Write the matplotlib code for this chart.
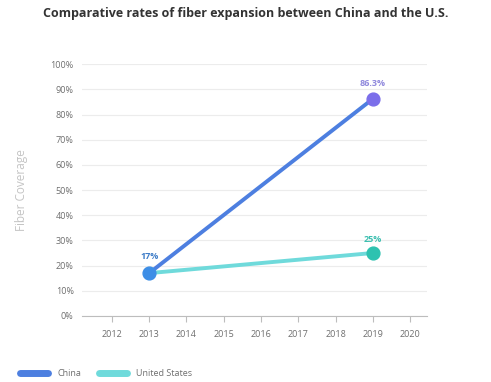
import matplotlib.pyplot as plt
from matplotlib.lines import Line2D

years = [2012, 2013, 2014, 2015, 2016, 2017, 2018, 2019, 2020]
china_years = [2013, 2019]
china_values = [17, 86.3]
us_years = [2013, 2019]
us_values = [17, 25]
y_ticks = [0, 10, 20, 30, 40, 50, 60, 70, 80, 90, 100]

china_line = "#4d7fe0"
china_start = "#3d8ee6"
china_end = "#7b6eea"
us_line = "#6fdadb"
us_end = "#2ec2b0"

plt.rcParams["font.family"] = ["Open Sans", "DejaVu Sans"]

fig = plt.figure(figsize=(4.91, 3.82), dpi=100)
ax = fig.add_axes([0.167, 0.173, 0.703, 0.659])

ax.plot(us_years, us_values, color=us_line, lw=2.8, solid_capstyle="round", zorder=3)
ax.plot(china_years, china_values, color=china_line, lw=2.8, solid_capstyle="round", zorder=4)
ax.scatter([china_years[0]], [china_values[0]], s=85, color=china_start, zorder=5, clip_on=False)
ax.scatter([china_years[1]], [china_values[1]], s=85, color=china_end, zorder=5, clip_on=False)
ax.scatter([us_years[1]], [us_values[1]], s=85, color=us_end, zorder=5, clip_on=False)

ax.annotate(f"{china_values[0]:g}%", (china_years[0], china_values[0]), xytext=(0, 10),
            textcoords="offset points", ha="center", fontsize=6.5, color="#3f7dc8", fontweight="bold")
ax.annotate(f"{china_values[1]:g}%", (china_years[1], china_values[1]), xytext=(0, 9),
            textcoords="offset points", ha="center", fontsize=6.5, color="#8f88dc", fontweight="bold")
ax.annotate(f"{us_values[1]:g}%", (us_years[1], us_values[1]), xytext=(0, 8),
            textcoords="offset points", ha="center", fontsize=6.5, color="#3cbfb0", fontweight="bold")

ax.set_xlim(2011.2, 2020.45)
ax.set_ylim(0, 100)
ax.set_xticks(years)
ax.set_xticklabels([str(y) for y in years])
ax.set_yticks(y_ticks)
ax.set_yticklabels([f"{v}%" for v in y_ticks])
ax.grid(axis="y", color="#ececec", lw=0.8)
ax.set_axisbelow(True)
for s in ["top", "right", "left"]:
    ax.spines[s].set_visible(False)
ax.spines["bottom"].set_color("#bdbdbd")
ax.tick_params(axis="x", colors="#bdbdbd", length=4, width=0.8, pad=6, labelsize=6.5, labelcolor="#6e6e6e")
ax.tick_params(axis="y", length=0, pad=6, labelsize=6.5, labelcolor="#6e6e6e")
ax.set_ylabel("Fiber Coverage", color="#c4c4c4", fontsize=8.5, labelpad=16)

fig.text(0.5, 0.965, "Comparative rates of fiber expansion between China and the U.S.",
         ha="center", va="center", fontsize=9, fontweight="bold", color="#333333")

handles = [Line2D([], [], color=china_line, lw=5, solid_capstyle="round"),
           Line2D([], [], color=us_line, lw=5, solid_capstyle="round")]
fig.legend(handles, ["China", "United States"], loc="lower left", bbox_to_anchor=(0.025, -0.01),
           ncol=2, frameon=False, fontsize=6.5, handlelength=3.1, handletextpad=1.0,
           columnspacing=2.0, labelcolor="#6e6e6e")

fig.savefig("out.png", dpi=100)
plt.close(fig)
